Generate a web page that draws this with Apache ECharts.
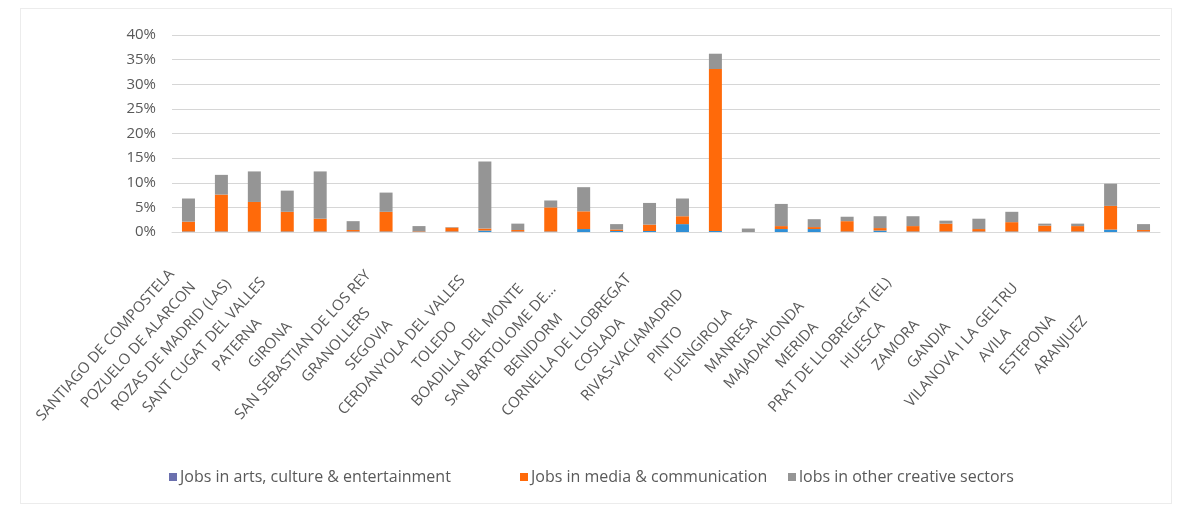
<!DOCTYPE html>
<html>
<head>
<meta charset="utf-8">
<script src="https://cdn.jsdelivr.net/npm/echarts@6/dist/echarts.min.js"></script>
<style>
  html, body { margin: 0; padding: 0; background: #fff; }
  #chart { width: 1184px; height: 506px; }
  #frame { position: absolute; left: 20px; top: 8px; width: 1150px; height: 494px; border: 1px solid #ececec; pointer-events: none; }
</style>
</head>
<body>
<div id="chart"></div>
<div id="frame"></div>
<script>
// municipalities, left to right
var cities = [
    'SANTIAGO DE COMPOSTELA', 'POZUELO DE ALARCON', 'ROZAS DE MADRID (LAS)', 'SANT CUGAT DEL VALLES',
    'PATERNA', 'GIRONA', 'SAN SEBASTIAN DE LOS REY', 'GRANOLLERS', 'SEGOVIA', 'CERDANYOLA DEL VALLES',
    'TOLEDO', 'BOADILLA DEL MONTE', 'SAN BARTOLOME DE…', 'BENIDORM', 'CORNELLA DE LLOBREGAT',
    'COSLADA', 'RIVAS-VACIAMADRID', 'PINTO', 'FUENGIROLA', 'MANRESA', 'MAJADAHONDA', 'MERIDA',
    'PRAT DE LLOBREGAT (EL)', 'HUESCA', 'ZAMORA', 'GANDIA', 'VILANOVA I LA GELTRU', 'AVILA',
    'ESTEPONA', 'ARANJUEZ'
];

// shares in %
var arts  = [0.1, 0.1, 0.1, 0.1, 0.1, 0.1, 0.1, 0.1, 0.1, 0.3, 0.1, 0.1, 0.6, 0.2, 0.2,
             1.6, 0.2, 0.0, 0.6, 0.6, 0.1, 0.3, 0.1, 0.1, 0.1, 0.1, 0.1, 0.1, 0.5, 0.1];
var media = [2.0, 7.5, 6.0, 4.0, 2.6, 0.3, 4.0, 0.1, 0.8, 0.4, 0.3, 4.9, 3.6, 0.3, 1.3,
             1.6, 32.9, 0.0, 0.6, 0.4, 2.1, 0.5, 1.1, 1.6, 0.5, 1.9, 1.2, 1.1, 4.8, 0.3];
var other = [4.7, 4.0, 6.2, 4.3, 9.6, 1.8, 3.9, 1.0, 0.1, 13.6, 1.3, 1.4, 4.9, 1.1, 4.4,
             3.6, 3.1, 0.7, 4.5, 1.6, 0.9, 2.4, 2.0, 0.6, 2.1, 2.1, 0.4, 0.5, 4.5, 1.2];

var yTicks = [0, 5, 10, 15, 20, 25, 30, 35, 40];

var names = ['Jobs in arts, culture & entertainment', 'Jobs in media & communication', 'lobs in other creative sectors'];
var colors = ['#2f8fd6', '#ff6a0a', '#959595'];

function legendAt (left, item) {
    return {
        bottom: 16,
        left: left,
        itemWidth: 8,
        itemHeight: 8,
        icon: 'rect',
        textStyle: { color: '#595959', fontSize: 16, padding: [0, 0, 0, -2] },
        data: [item]
    };
}

(function () {
    var myChart = echarts.init(document.getElementById('chart'));

    var option = {
        animation: false,
        textStyle: { fontFamily: 'Open Sans' },
        grid: { left: 172, right: 24, top: 35, bottom: 274 },
        legend: [
            legendAt(164, { name: names[0], itemStyle: { color: '#6b70ae' } }),
            legendAt(515, { name: names[1] }),
            legendAt(783, { name: names[2] })
        ],
        xAxis: {
            type: 'category',
            data: cities,
            axisLine: { lineStyle: { color: '#d9d9d9' } },
            axisTick: { show: false },
            axisLabel: {
                rotate: 48,
                interval: 0,
                margin: 21,
                color: '#595959',
                fontSize: 15,
                // labels are centred in a box as wide as the longest one, like the source
                formatter: function (v) { return '{a|' + v + '}'; },
                rich: { a: { width: 232, align: 'center', fontSize: 15, color: '#595959', padding: [0, 8, 0, 0] } }
            }
        },
        yAxis: {
            type: 'value',
            min: yTicks[0],
            max: yTicks[yTicks.length - 1],
            interval: 5,
            axisLine: { show: false },
            axisTick: { show: false },
            splitLine: { lineStyle: { color: '#d6d6d6' } },
            axisLabel: { color: '#595959', fontSize: 15, margin: 16, formatter: '{value}%' }
        },
        series: [
            { name: names[0], type: 'bar', stack: 'jobs', barWidth: 13, data: arts, itemStyle: { color: colors[0] } },
            { name: names[1], type: 'bar', stack: 'jobs', barWidth: 13, data: media, itemStyle: { color: colors[1] } },
            { name: names[2], type: 'bar', stack: 'jobs', barWidth: 13, data: other, itemStyle: { color: colors[2] } }
        ]
    };

    myChart.setOption(option);
})();
</script>
</body>
</html>
